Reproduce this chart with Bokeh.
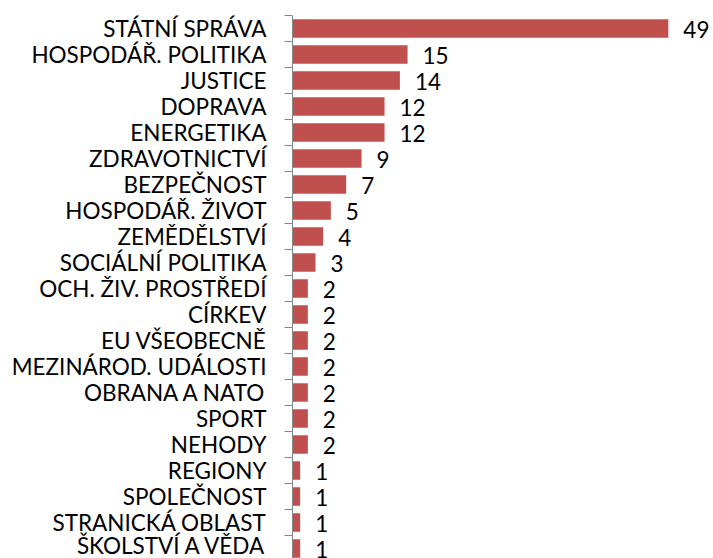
from bokeh.plotting import figure
from bokeh.models import Range1d, FixedTicker, ColumnDataSource, LinearAxis
from bokeh.core.properties import value
from bokeh.embed import file_html
from bokeh.resources import INLINE

categories = ["STÁTNÍ SPRÁVA", "HOSPODÁŘ. POLITIKA", "JUSTICE", "DOPRAVA",
              "ENERGETIKA", "ZDRAVOTNICTVÍ", "BEZPEČNOST", "HOSPODÁŘ. ŽIVOT",
              "ZEMĚDĚLSTVÍ", "SOCIÁLNÍ POLITIKA", "OCH. ŽIV. PROSTŘEDÍ", "CÍRKEV",
              "EU VŠEOBECNĚ", "MEZINÁROD. UDÁLOSTI", "OBRANA A NATO", "SPORT",
              "NEHODY", "REGIONY", "SPOLEČNOST", "STRANICKÁ OBLAST", "ŠKOLSTVÍ A VĚDA"]
counts = [49, 15, 14, 12, 12, 9, 7, 5, 4, 3, 2, 2, 2, 2, 2, 2, 2, 1, 1, 1, 1]

n = len(categories)
pos = list(range(n))
bounds = [i - 0.5 for i in range(n + 1)]
src = ColumnDataSource(dict(y=pos, count=counts, label=[str(c) for c in counts]))

FONT = "Lato"
W, H = 713, 558
LEFT = 292
PX_PER_UNIT = 7.67
BAND = 26.0
TOP_PAD = 15.0
GRAY = "#868686"

x_end = (W - LEFT) / PX_PER_UNIT
y_top = -0.5 - TOP_PAD / BAND
y_bottom = y_top + H / BAND

p = figure(width=W, height=H, output_backend="svg", toolbar_location=None,
           x_range=Range1d(0, x_end), y_range=Range1d(y_bottom, y_top),
           min_border=0, min_border_left=LEFT)
p.outline_line_color = None
p.grid.visible = False
p.xaxis.visible = False

# axis closest to the bars: line and tick marks between the categories
tick_ax = p.yaxis[0]
tick_ax.ticker = FixedTicker(ticks=bounds)
tick_ax.bounds = (-0.5, n - 0.5)
tick_ax.major_label_overrides = {b: "" for b in bounds}
tick_ax.major_label_text_font_size = "0px"
tick_ax.major_label_standoff = 0
tick_ax.major_tick_out = 8
tick_ax.major_tick_in = 0
tick_ax.major_tick_line_color = GRAY
tick_ax.axis_line_color = GRAY
tick_ax.minor_tick_line_color = None

# category labels
lab_ax = LinearAxis(ticker=FixedTicker(ticks=pos),
                    major_label_overrides={i: c for i, c in zip(pos, categories)},
                    axis_line_color=None, major_tick_line_color=None,
                    minor_tick_line_color=None, major_tick_out=0, major_tick_in=0,
                    minor_tick_out=0, minor_tick_in=0,
                    major_label_standoff=18, major_label_text_font=FONT,
                    major_label_text_font_size="22.5px",
                    major_label_text_color="black")
p.add_layout(lab_ax, "left")

p.hbar(y="y", left=0, right="count", height=0.72, source=src,
       fill_color="#C0504D", line_color=None)
p.text(x="count", y="y", text="label", source=src, x_offset=15, y_offset=1,
       text_align="left", text_baseline="middle", text_font=value(FONT),
       text_font_size="22.5px", text_color="black")

open("out.html", "w").write(file_html(p, INLINE))
